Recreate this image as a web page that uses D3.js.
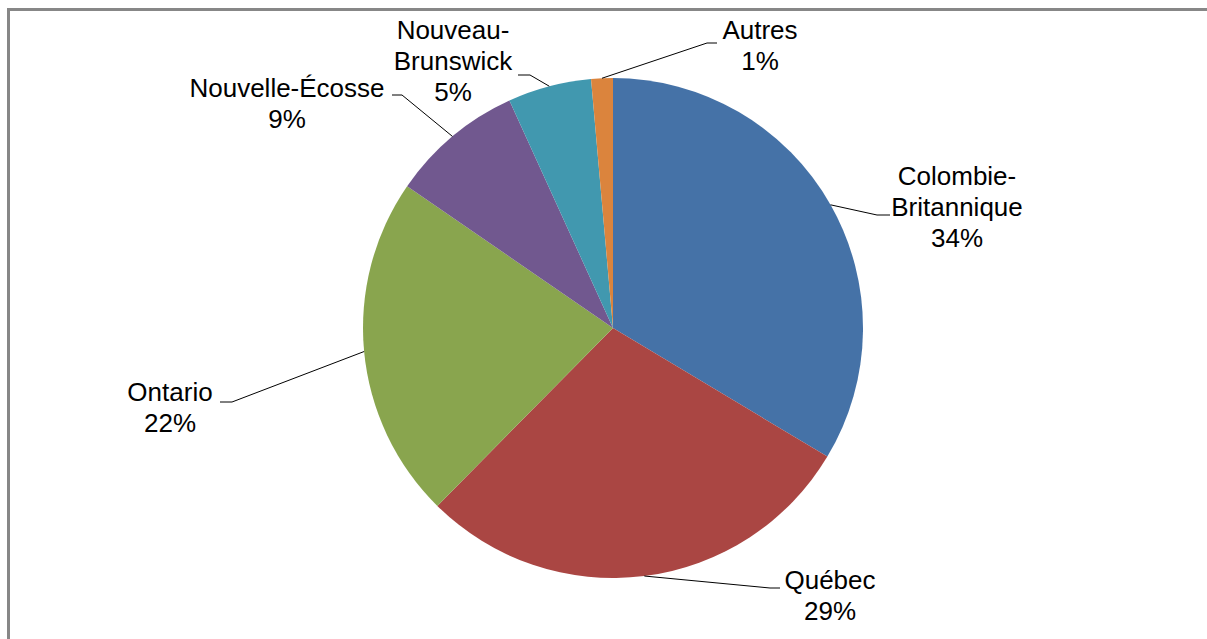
<!DOCTYPE html>
<html>
<head>
<meta charset="utf-8">
<script src="https://cdn.jsdelivr.net/npm/d3@7"></script>
<style>
  html, body { margin: 0; padding: 0; background: #fff; }
  svg { display: block; }
</style>
</head>
<body>
<div id="wrapper"></div>
<script>
// provinces, clockwise from 12 o'clock
const provinces = ["Colombie-Britannique", "Québec", "Ontario", "Nouvelle-Écosse", "Nouveau-Brunswick", "Autres"];
const labelLines = [["Colombie-", "Britannique"], ["Québec"], ["Ontario"], ["Nouvelle-Écosse"], ["Nouveau-", "Brunswick"], ["Autres"]];
const shares = [33.6, 28.8, 22.2, 8.6, 5.4, 1.4];
const colors = ["#4572A7", "#AA4643", "#89A54E", "#71588F", "#4198AF", "#DB843D"];

// label placement (text centre x, first line centre y, elbow x, elbow y, end x)
const labelPos = [
  [957, 176, 877, 215, 890],
  [830, 580, 770, 588, 780],
  [170, 392, 232, 402, 220],
  [287, 88, 402, 95, 392],
  [453, 30, 530, 75, 518],
  [760, 30, 707, 43, 717]
];

const width = 1207, height = 639;
const cx = 613, cy = 328, radius = 250;
const fontSize = 26, lineH = 31;

const svg = d3.select("#wrapper")
  .append("svg")
  .attr("width", width)
  .attr("height", height);

// chart frame (only top/left edges visible)
svg.append("path")
  .attr("d", `M8.5,${height + 5} V9.5 H${width + 5}`)
  .attr("fill", "none")
  .attr("stroke", "#878787")
  .attr("stroke-width", 3);

const pie = d3.pie().sort(null).value(d => d)(shares);
const arc = d3.arc().innerRadius(0).outerRadius(radius);

const g = svg.append("g").attr("transform", `translate(${cx},${cy})`);

g.selectAll("path")
  .data(pie)
  .enter()
  .append("path")
  .attr("d", arc)
  .attr("fill", (d, i) => colors[i]);

// leader lines, start on the rim at mid-angle
const rim = d3.arc().innerRadius(radius).outerRadius(radius);
svg.append("g")
  .selectAll("polyline")
  .data(pie)
  .enter()
  .append("polyline")
  .attr("points", (d, i) => {
    const [x0, y0] = rim.centroid(d);
    const p = labelPos[i];
    return `${cx + x0},${cy + y0} ${p[2]},${p[3]} ${p[4]},${p[3]}`;
  })
  .attr("fill", "none")
  .attr("stroke", "#000")
  .attr("stroke-width", 1);

// labels
const labels = svg.append("g")
  .attr("font-family", "Liberation Sans, Arial, sans-serif")
  .attr("font-size", fontSize)
  .attr("fill", "#000")
  .attr("text-anchor", "middle");

labels.selectAll("text")
  .data(pie)
  .enter()
  .append("text")
  .each(function (d, i) {
    const p = labelPos[i];
    const lines = labelLines[i].concat([Math.round(shares[i]) + "%"]);
    const t = d3.select(this);
    lines.forEach((s, k) => {
      t.append("tspan")
        .attr("x", p[0])
        .attr("y", p[1] + k * lineH)
        .attr("dy", "0.35em")
        .text(s);
    });
  });
</script>
</body>
</html>
